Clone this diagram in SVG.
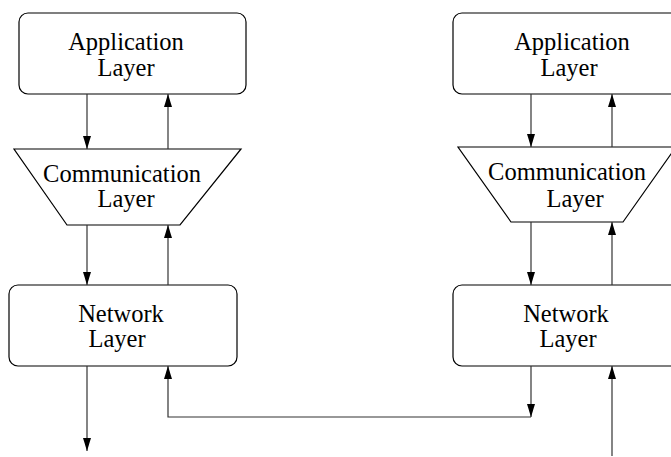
<svg xmlns="http://www.w3.org/2000/svg" width="671" height="457" viewBox="0 0 671 457">
<defs>
<marker id="ah" markerWidth="13" markerHeight="8" refX="13" refY="4" orient="auto" markerUnits="userSpaceOnUse" viewBox="0 0 13 8">
<path d="M0,0 L13,4 L0,8 Z" fill="#000"/>
</marker>
<style>
.box{fill:#fff;stroke:#000;stroke-width:1.2}
.t{font-family:"Liberation Serif","Times New Roman",serif;font-size:24.5px;fill:#000;text-anchor:middle}
.c{fill:none;stroke:#333;stroke-width:1.2}
.a{marker-end:url(#ah)}
</style>
</defs>
<rect width="671" height="457" fill="#fff"/>
<g id="app-left">
<rect class="box" x="19" y="13" width="227" height="81" rx="9"/>
<text class="t" x="126" y="50">Application</text>
<text class="t" x="126" y="76">Layer</text>
</g>
<g id="comm-left">
<polygon class="box" points="14,149 241,149 180,225 67,225"/>
<text class="t" x="122" y="182">Communication</text>
<text class="t" x="126" y="207">Layer</text>
</g>
<g id="net-left">
<rect class="box" x="9" y="285" width="228" height="81" rx="9"/>
<text class="t" x="121" y="322">Network</text>
<text class="t" x="117" y="347">Layer</text>
</g>
<g id="app-right">
<rect class="box" x="453" y="13" width="227" height="81" rx="9"/>
<text class="t" x="572" y="50">Application</text>
<text class="t" x="569" y="76">Layer</text>
</g>
<g id="comm-right">
<polygon class="box" points="458,147 676,147 623,222 511,222"/>
<text class="t" x="567" y="180">Communication</text>
<text class="t" x="575" y="207">Layer</text>
</g>
<g id="net-right">
<rect class="box" x="453" y="285" width="227" height="81" rx="9"/>
<text class="t" x="566" y="322">Network</text>
<text class="t" x="568" y="347">Layer</text>
</g>
<g id="connectors">
<line class="c a" x1="87" y1="94" x2="87" y2="149"/>
<line class="c a" x1="168" y1="149" x2="168" y2="94"/>
<line class="c a" x1="87" y1="225" x2="87" y2="285"/>
<line class="c a" x1="168" y1="285" x2="168" y2="225"/>
<line class="c a" x1="87" y1="366" x2="87" y2="451"/>
<path class="c a" d="M531,417 L168,417 L168,366"/>
<line class="c a" x1="531" y1="366" x2="531" y2="417"/>
<line class="c a" x1="612" y1="456" x2="612" y2="366"/>
<line class="c a" x1="531" y1="94" x2="531" y2="147"/>
<line class="c a" x1="612" y1="147" x2="612" y2="94"/>
<line class="c a" x1="531" y1="222" x2="531" y2="285"/>
<line class="c a" x1="612" y1="285" x2="612" y2="222"/>
</g>
</svg>
